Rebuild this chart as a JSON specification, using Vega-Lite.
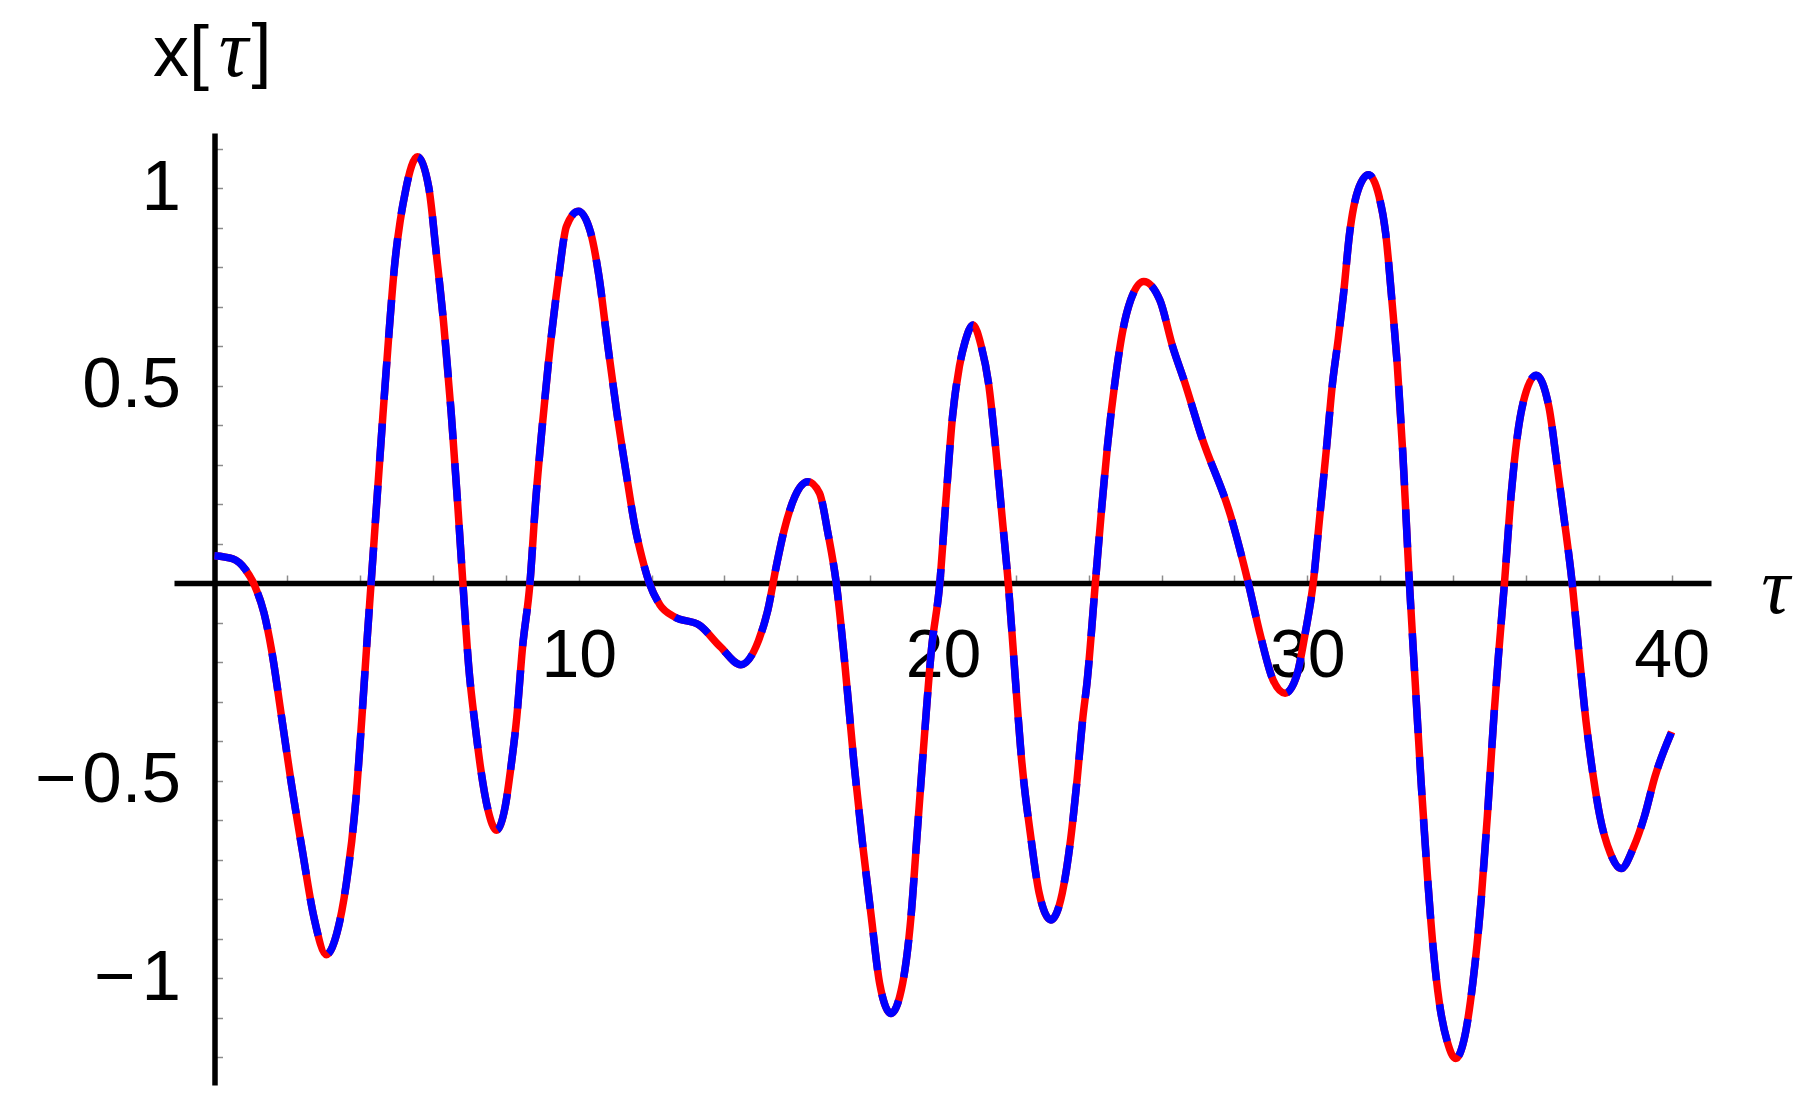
{
  "$schema": "https://vega.github.io/schema/vega-lite/v6.json",
  "width": 1537,
  "height": 952,
  "autosize": {"type": "none"},
  "padding": {"left": 174, "top": 133, "right": 104, "bottom": 23},
  "background": "white",
  "config": {"view": {"stroke": null}},
  "datasets": {
    "curve": [
    {"tau": 0, "x": 0.07}, {"tau": 0.5, "x": 0.062}, {"tau": 0.85, "x": 0.035}, {"tau": 1.1, "x": -0.005},
    {"tau": 1.36, "x": -0.075}, {"tau": 1.57, "x": -0.17}, {"tau": 1.83, "x": -0.33}, {"tau": 2.1, "x": -0.5},
    {"tau": 2.41, "x": -0.675}, {"tau": 2.73, "x": -0.845}, {"tau": 3.07, "x": -0.94}, {"tau": 3.36, "x": -0.886},
    {"tau": 3.62, "x": -0.76}, {"tau": 3.88, "x": -0.55}, {"tau": 4.04, "x": -0.35}, {"tau": 4.2, "x": -0.13},
    {"tau": 4.3, "x": 0}, {"tau": 4.46, "x": 0.211}, {"tau": 4.62, "x": 0.42}, {"tau": 4.78, "x": 0.62},
    {"tau": 4.93, "x": 0.79}, {"tau": 5.25, "x": 0.996}, {"tau": 5.57, "x": 1.08}, {"tau": 5.88, "x": 1.004},
    {"tau": 6.09, "x": 0.835}, {"tau": 6.3, "x": 0.65}, {"tau": 6.5, "x": 0.43}, {"tau": 6.67, "x": 0.21},
    {"tau": 6.82, "x": 0}, {"tau": 6.98, "x": -0.211}, {"tau": 7.17, "x": -0.37}, {"tau": 7.3, "x": -0.464},
    {"tau": 7.51, "x": -0.574}, {"tau": 7.74, "x": -0.625}, {"tau": 7.98, "x": -0.566}, {"tau": 8.14, "x": -0.464},
    {"tau": 8.3, "x": -0.338}, {"tau": 8.45, "x": -0.169}, {"tau": 8.66, "x": 0}, {"tau": 8.82, "x": 0.211},
    {"tau": 8.98, "x": 0.38}, {"tau": 9.17, "x": 0.56}, {"tau": 9.45, "x": 0.776}, {"tau": 9.66, "x": 0.903},
    {"tau": 9.99, "x": 0.942}, {"tau": 10.32, "x": 0.89}, {"tau": 10.55, "x": 0.78}, {"tau": 10.8, "x": 0.6},
    {"tau": 11.05, "x": 0.43}, {"tau": 11.3, "x": 0.28}, {"tau": 11.55, "x": 0.14}, {"tau": 11.75, "x": 0.06},
    {"tau": 11.94, "x": 0},
    {"tau": 12.23, "x": -0.055}, {"tau": 12.63, "x": -0.085}, {"tau": 13.31, "x": -0.106}, {"tau": 13.88, "x": -0.16},
    {"tau": 14.45, "x": -0.206}, {"tau": 14.93, "x": -0.146}, {"tau": 15.19, "x": -0.068}, {"tau": 15.42, "x": 0.042},
    {"tau": 15.64, "x": 0.135}, {"tau": 15.93, "x": 0.219}, {"tau": 16.29, "x": 0.257}, {"tau": 16.61, "x": 0.228},
    {"tau": 16.84, "x": 0.127}, {"tau": 17.07, "x": 0}, {"tau": 17.3, "x": -0.2}, {"tau": 17.55, "x": -0.45},
    {"tau": 17.81, "x": -0.675}, {"tau": 18.03, "x": -0.844}, {"tau": 18.26, "x": -1.013}, {"tau": 18.57, "x": -1.089},
    {"tau": 18.89, "x": -1.013}, {"tau": 19.12, "x": -0.844}, {"tau": 19.29, "x": -0.633}, {"tau": 19.46, "x": -0.422},
    {"tau": 19.68, "x": -0.169}, {"tau": 19.91, "x": 0}, {"tau": 20.08, "x": 0.211}, {"tau": 20.26, "x": 0.422},
    {"tau": 20.45, "x": 0.55}, {"tau": 20.6, "x": 0.61}, {"tau": 20.82, "x": 0.654}, {"tau": 21.05, "x": 0.6},
    {"tau": 21.25, "x": 0.506}, {"tau": 21.45, "x": 0.337}, {"tau": 21.62, "x": 0.169}, {"tau": 21.79, "x": 0},
    {"tau": 21.96, "x": -0.211}, {"tau": 22.15, "x": -0.44}, {"tau": 22.42, "x": -0.65}, {"tau": 22.64, "x": -0.785},
    {"tau": 22.96, "x": -0.852}, {"tau": 23.27, "x": -0.785}, {"tau": 23.5, "x": -0.65}, {"tau": 23.67, "x": -0.506},
    {"tau": 23.84, "x": -0.338}, {"tau": 23.95, "x": -0.253}, {"tau": 24.18, "x": 0}, {"tau": 24.35, "x": 0.186},
    {"tau": 24.52, "x": 0.354}, {"tau": 24.72, "x": 0.51}, {"tau": 24.92, "x": 0.633}, {"tau": 25.15, "x": 0.717},
    {"tau": 25.51, "x": 0.764}, {"tau": 25.95, "x": 0.717}, {"tau": 26.3, "x": 0.6}, {"tau": 26.63, "x": 0.51},
    {"tau": 27.1, "x": 0.37}, {"tau": 27.9, "x": 0.169}, {"tau": 28.36, "x": 0.008}, {"tau": 28.72, "x": -0.135},
    {"tau": 29.06, "x": -0.245}, {"tau": 29.39, "x": -0.278}, {"tau": 29.7, "x": -0.236}, {"tau": 29.94, "x": -0.127},
    {"tau": 30.17, "x": 0.008}, {"tau": 30.34, "x": 0.169}, {"tau": 30.52, "x": 0.337}, {"tau": 30.69, "x": 0.506},
    {"tau": 30.85, "x": 0.62}, {"tau": 30.99, "x": 0.73}, {"tau": 31.16, "x": 0.886}, {"tau": 31.39, "x": 0.995},
    {"tau": 31.68, "x": 1.034}, {"tau": 31.97, "x": 0.979}, {"tau": 32.15, "x": 0.886}, {"tau": 32.32, "x": 0.717},
    {"tau": 32.47, "x": 0.55}, {"tau": 32.62, "x": 0.33}, {"tau": 32.79, "x": 0.02}, {"tau": 32.96, "x": -0.25},
    {"tau": 33.12, "x": -0.5}, {"tau": 33.28, "x": -0.72}, {"tau": 33.45, "x": -0.92}, {"tau": 33.62, "x": -1.06},
    {"tau": 33.84, "x": -1.16}, {"tau": 34.07, "x": -1.203}, {"tau": 34.3, "x": -1.156}, {"tau": 34.54, "x": -1.013},
    {"tau": 34.77, "x": -0.802}, {"tau": 34.94, "x": -0.591}, {"tau": 35.12, "x": -0.338}, {"tau": 35.24, "x": -0.19},
    {"tau": 35.41, "x": 0}, {"tau": 35.59, "x": 0.22}, {"tau": 35.76, "x": 0.37}, {"tau": 35.93, "x": 0.46},
    {"tau": 36.28, "x": 0.527}, {"tau": 36.63, "x": 0.447}, {"tau": 36.86, "x": 0.295}, {"tau": 37.04, "x": 0.169},
    {"tau": 37.27, "x": 0}, {"tau": 37.45, "x": -0.17}, {"tau": 37.65, "x": -0.35}, {"tau": 37.85, "x": -0.49},
    {"tau": 38.03, "x": -0.59}, {"tau": 38.32, "x": -0.684}, {"tau": 38.61, "x": -0.722}, {"tau": 38.96, "x": -0.667},
    {"tau": 39.25, "x": -0.591}, {"tau": 39.54, "x": -0.49}, {"tau": 40, "x": -0.376}
    ],
    "tauLabel": [{"label": "τ", "tau": 0.52, "x": 1.284}],
    "bracket": [{"label": "]", "tau": 1.29, "x": 1.29}]
  },
  "data": {"name": "curve"},
  "encoding": {
    "x": {
      "field": "tau", "type": "quantitative",
      "scale": {"domain": [-1.11, 41.08], "nice": false, "zero": false},
      "axis": {
        "orient": "bottom", "offset": -502,
        "values": [2, 4, 6, 8, 10, 12, 14, 16, 18, 20, 22, 24, 26, 28, 30, 32, 34, 36, 38, 40],
        "labelExpr": "datum.value % 10 === 0 ? datum.label : ''",
        "labelOverlap": false, "labelFlush": false, "labelBound": false,
        "labelFont": "Liberation Sans", "labelFontSize": 68, "labelColor": "#000000",
        "labelPadding": 47, "labelAlign": "center", "labelBaseline": "top",
        "domain": true, "domainColor": "#000000", "domainWidth": 5.5, "domainCap": "butt",
        "ticks": true, "tickColor": "#8c8c8c", "tickWidth": 1.5, "tickSize": -8,
        "grid": false,
        "title": "τ", "titleFont": "Liberation Serif", "titleFontStyle": "italic", "titleFontWeight": "normal",
        "titleFontSize": 80, "titleColor": "#000000", "titleAlign": "center", "titleBaseline": "alphabetic",
        "titleX": 1601, "titleY": 29, "titleAngle": 0
      }
    },
    "y": {
      "field": "x", "type": "quantitative",
      "scale": {"domain": [-1.27, 1.14], "nice": false, "zero": false},
      "axis": {
        "orient": "left", "offset": -40.5,
        "values": [-1.2, -1.1, -1, -0.9, -0.8, -0.7, -0.6, -0.5, -0.4, -0.3, -0.2, -0.1, 0.1, 0.2, 0.3, 0.4, 0.5, 0.6, 0.7, 0.8, 0.9, 1, 1.1],
        "labelExpr": "datum.value === 1 ? '1' : datum.value === 0.5 ? '0.5' : datum.value === -0.5 ? '\u2212\u200a0.5' : datum.value === -1 ? '\u2212\u200a1' : ''",
        "labelOverlap": false, "labelFlush": false, "labelBound": false,
        "labelFont": "Liberation Sans", "labelFontSize": 71, "labelColor": "#000000",
        "labelPadding": 42, "labelAlign": "right", "labelBaseline": "middle",
        "domain": true, "domainColor": "#000000", "domainWidth": 5.5, "domainCap": "butt",
        "ticks": true, "tickColor": "#8c8c8c", "tickWidth": 1.5, "tickSize": -8,
        "grid": false,
        "title": "x[", "titleFont": "Liberation Sans", "titleFontWeight": "normal",
        "titleFontSize": 72, "titleColor": "#000000", "titleAngle": 0, "titleAlign": "left",
        "titleBaseline": "alphabetic", "titleX": -62, "titleY": -58
      }
    }
  },
  "layer": [
    {"mark": {"type": "line", "color": "#ff0000", "strokeWidth": 7.5, "interpolate": "monotone", "strokeCap": "butt"}},
    {"mark": {"type": "line", "color": "#0000ff", "strokeWidth": 7.5, "interpolate": "monotone", "strokeDash": [38, 24], "strokeCap": "butt"}},
    {
      "data": {"name": "tauLabel"},
      "mark": {"type": "text", "font": "Liberation Serif", "fontStyle": "italic", "fontSize": 82, "align": "center", "baseline": "alphabetic", "color": "#000000", "clip": false},
      "encoding": {
        "text": {"field": "label", "type": "nominal"}
      }
    },
    {
      "data": {"name": "bracket"},
      "mark": {"type": "text", "font": "Liberation Sans", "fontSize": 72, "align": "center", "baseline": "alphabetic", "color": "#000000", "clip": false},
      "encoding": {
        "text": {"field": "label", "type": "nominal"}
      }
    }
  ]
}
